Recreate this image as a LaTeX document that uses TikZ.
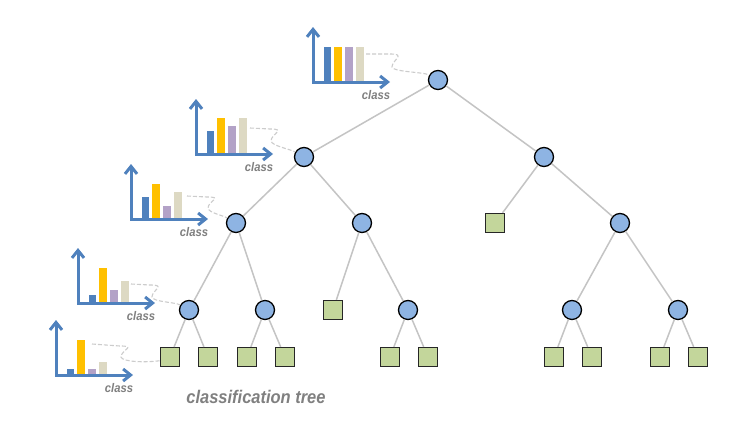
\documentclass[tikz,border=0pt]{standalone}
\usepackage{fontspec}
\setmainfont{Liberation Sans}
\newfontfamily\lblfont[FakeStretch=0.9]{Liberation Sans}
\usetikzlibrary{arrows.meta}
\definecolor{axisblue}{HTML}{4F81BD}
\definecolor{barblue}{HTML}{4F81BD}
\definecolor{bargold}{HTML}{FFC000}
\definecolor{barpurple}{HTML}{B3A2C7}
\definecolor{barbeige}{HTML}{DDD9C3}
\definecolor{nodeblue}{HTML}{8EB4E3}
\definecolor{leafgreen}{HTML}{C3D69B}
\definecolor{edgegray}{HTML}{C4C4C4}
\definecolor{linkgray}{HTML}{CCCCCC}
\definecolor{lblgray}{HTML}{808080}
\newcommand\histo[7]{%
  \fill[barblue]   (#2+10.5,#3) rectangle ++(7.5,-#4);
  \fill[bargold]   (#2+21,#3)   rectangle ++(7.5,-#5);
  \fill[barpurple] (#2+32,#3)   rectangle ++(7.5,-#6);
  \fill[barbeige]  (#2+43,#3)   rectangle ++(7.5,-#7);
  \draw[axis] (#2,#3-55) -- (#2,#3) -- (#2+77,#3);
  \node[classlbl] (#1) at (#2+63,#3+13) {class};
}
\newcommand\squig[4]{%
  \draw[link] #1 -- #2 .. controls +(17,0) and +(0,-7) .. #3 .. controls +(1,5) and +(-14,-8) .. #4;
}
\begin{document}
\begin{tikzpicture}[x=1pt,y=-1pt,
  edge/.style={draw=edgegray,line width=1.5pt},
  inner/.style={circle,draw=black,line width=1.3pt,fill=nodeblue,minimum size=19pt,inner sep=0pt},
  leaf/.style={rectangle,draw=black!85,line width=1.3pt,fill=leafgreen,minimum size=19pt,inner sep=0pt},
  axis/.style={draw=axisblue,line width=3pt,line join=miter,
    {Straight Barb[length=7.5pt,width=12pt,line width=3pt]}-{Straight Barb[length=7.5pt,width=12pt,line width=3pt]}},
  link/.style={draw=linkgray,line width=1.1pt,dash pattern=on 4pt off 2pt},
  classlbl/.style={font=\lblfont\bfseries\itshape\fontsize{12.5}{14}\selectfont,text=lblgray,inner sep=0pt},
  titlelbl/.style={font=\lblfont\bfseries\itshape\fontsize{18.3}{20}\selectfont,text=lblgray,inner sep=0pt},
]
\useasboundingbox (0,0) rectangle (756,439);
\fill[white] (0,0) rectangle (756,439);

% tree nodes
\node[inner] (r)   at (438,80)  {};
\node[inner] (a)   at (304,157) {};
\node[inner] (b)   at (544,157) {};
\node[inner] (aa)  at (236,223) {};
\node[inner] (ab)  at (362,223) {};
\node[leaf]  (ba)  at (495,223) {};
\node[inner] (bb)  at (620,223) {};
\node[inner] (aaa) at (189,310) {};
\node[inner] (aab) at (265,310) {};
\node[leaf]  (aba) at (333,310) {};
\node[inner] (abb) at (408,310) {};
\node[inner] (bba) at (572,310) {};
\node[inner] (bbb) at (678,310) {};
\node[leaf] (l1)  at (170,357) {};
\node[leaf] (l2)  at (208,357) {};
\node[leaf] (l3)  at (247,357) {};
\node[leaf] (l4)  at (285,357) {};
\node[leaf] (l5)  at (390,357) {};
\node[leaf] (l6)  at (428,357) {};
\node[leaf] (l7)  at (554,357) {};
\node[leaf] (l8)  at (592,357) {};
\node[leaf] (l9)  at (660,357) {};
\node[leaf] (l10) at (698,357) {};

% edges
\draw[edge] (r) -- (a);
\draw[edge] (r) -- (b);
\draw[edge] (a) -- (aa);
\draw[edge] (a) -- (ab);
\draw[edge] (b) -- (ba);
\draw[edge] (b) -- (bb);
\draw[edge] (aa) -- (aaa);
\draw[edge] (aa) -- (aab);
\draw[edge] (ab) -- (aba);
\draw[edge] (ab) -- (abb);
\draw[edge] (bb) -- (bba);
\draw[edge] (bb) -- (bbb);
\draw[edge] (aaa) -- (l1);
\draw[edge] (aaa) -- (l2);
\draw[edge] (aab) -- (l3);
\draw[edge] (aab) -- (l4);
\draw[edge] (abb) -- (l5);
\draw[edge] (abb) -- (l6);
\draw[edge] (bba) -- (l7);
\draw[edge] (bba) -- (l8);
\draw[edge] (bbb) -- (l9);
\draw[edge] (bbb) -- (l10);

% histograms
\histo{c1}{313}{82}{35}{35}{35}{35}
\histo{c2}{196}{154}{23}{36}{28}{36}
\histo{c3}{131}{219}{22}{35}{13}{27}
\histo{c4}{78}{303}{8}{35}{13}{22}
\histo{c5}{56}{375}{6}{35}{6}{13}

% dashed links
\coordinate (s1) at (366,54);
\coordinate (s2) at (250,128);
\coordinate (s3) at (187,196);
\coordinate (s4) at (131,284);
\coordinate (s5) at (92,344);
\squig{(s1)}{(390,54)}{(392,67)}{(r)}
\squig{(s2)}{(270,129)}{(271,141)}{(a)}
\squig{(s3)}{(207,197)}{(208,208)}{(aa)}
\squig{(s4)}{(150,285)}{(152,297)}{(aaa)}
\draw[link] (s5) -- (120,346) .. controls +(17,0) and +(0,-7) .. (121,357) .. controls +(1,5) and +(-14,2) .. (l1.200);

\node[titlelbl] (title) at (256,397) {classification tree};
\end{tikzpicture}
\end{document}
